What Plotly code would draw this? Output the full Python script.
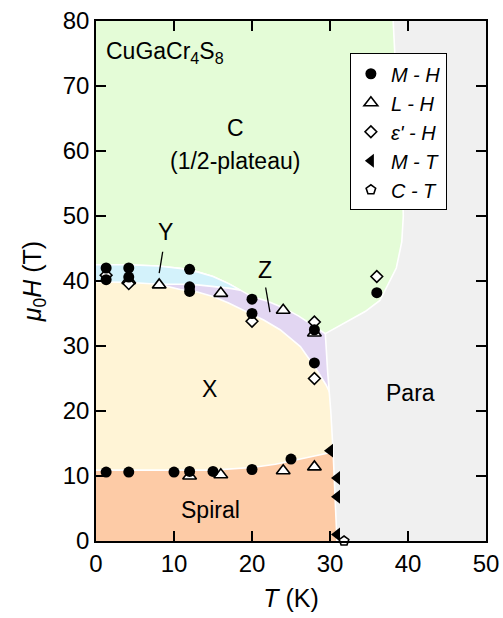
import plotly.graph_objects as go

# ---- phase boundaries (T in K, mu0H in T) ----
c_lower_T = [0, 4, 8, 11, 13, 15, 17, 18.5, 20, 22, 24, 26, 28, 29.4]
c_lower_H = [42.5, 42.5, 42.3, 41.9, 41.4, 40.7, 39.6, 38.6, 37.6, 36.9, 35.9, 34.6, 33.0, 31.9]

y_split_T = [9, 11, 13, 15, 17, 18.5]          # cyan (Y) / purple (Z) boundary
y_split_H = [39.5, 39.5, 39.4, 39.2, 38.9, 38.6]

x_upper_T = [0, 4, 8, 10.8, 13, 15, 17, 19.3, 21.5, 23.6, 26.2, 28.2, 29.5, 30.3]
x_upper_H = [39.9, 39.8, 39.5, 38.7, 38.3, 37.6, 36.6, 35.3, 34.0, 32.5, 29.9, 26.5, 24.0, 22.0]

spiral_T = [0, 5, 10, 15, 20, 23, 25, 27.5, 30.4]
spiral_H = [10.9, 10.8, 10.8, 10.9, 11.3, 11.8, 12.3, 13.0, 13.7]

para_T = [38.1, 38.6, 39.2, 39.4, 39.2, 38.5, 36.4, 34.5, 32.6, 30.8, 29.4, 29.7, 30.1, 30.4, 30.7, 31.0]
para_H = [80, 68, 58, 50, 46, 42, 37, 35.3, 34.0, 32.8, 31.9, 26, 20, 13.7, 6, 0]

# ---- measured points ----
mh_T = [1.3, 1.3, 4.2, 4.2, 12, 12, 12, 20, 20, 28, 28, 36, 1.3, 4.2, 10, 12, 15, 20, 25]
mh_H = [42.0, 40.2, 42.0, 40.6, 41.8, 39.1, 38.4, 37.2, 35.0, 32.5, 27.4, 38.2, 10.6, 10.6, 10.6, 10.7, 10.7, 11.0, 12.6]

lh_T = [4.2, 8.1, 16, 24, 28, 12, 16, 24, 28]
lh_H = [40.1, 39.4, 38.1, 35.5, 32.0, 10.0, 10.2, 10.8, 11.4]

ed_T = [1.3, 4.2, 20, 28, 28, 36]
ed_H = [40.9, 39.6, 33.8, 33.7, 25.0, 40.7]

mt_T = [30.0, 30.9, 30.9, 30.9]
mt_H = [13.9, 9.7, 6.8, 1.0]

ct_T = [31.8]
ct_H = [0]

GREEN = '#e4fcd7'
CYAN = '#d3f2fb'
PURPLE = '#e2d6f2'
YELLOW = '#fff4d6'
PEACH = '#fdcba6'
GRAY = '#f0f0f0'
FONT = 'Liberation Sans, Arial, sans-serif'

LO, HI_T, HI_H = -3, 53, 83  # padding outside the axes so fills reach the frame


def below(T, H, right):
    # polygon of everything under a boundary curve
    xs = [LO] + T + [right, right, LO]
    ys = [H[0]] + H + [H[-1], LO, LO]
    return xs, ys


fig = go.Figure()


def region(xs, ys, color):
    fig.add_trace(go.Scatter(x=xs, y=ys, mode='lines', fill='toself', fillcolor=color,
                             line=dict(color='white', width=1.6), hoverinfo='skip',
                             showlegend=False))


region(*below(c_lower_T, c_lower_H, 33), PURPLE)
n = c_lower_T.index(y_split_T[-1]) + 1
region([LO] + c_lower_T[:n] + y_split_T[::-1] + [LO],
       [c_lower_H[0]] + c_lower_H[:n] + y_split_H[::-1] + [y_split_H[0]], CYAN)
region(*below(x_upper_T, x_upper_H, 33), YELLOW)
region(*below(spiral_T, spiral_H, 33), PEACH)
region([para_T[0]] + para_T + [para_T[-1], HI_T, HI_T],
       [HI_H] + para_H + [LO, LO, HI_H], GRAY)

mk_line = dict(color='black', width=1.6)
fig.add_trace(go.Scatter(x=lh_T, y=lh_H, mode='markers', name='<i>L - H</i>', legendrank=2,
                         marker=dict(symbol='triangle-up', size=12, color='white', line=mk_line)))
fig.add_trace(go.Scatter(x=ed_T, y=ed_H, mode='markers', name="<i>ε' - H</i>", legendrank=3,
                         marker=dict(symbol='diamond', size=9, color='white', line=mk_line)))
fig.add_trace(go.Scatter(x=mh_T, y=mh_H, mode='markers', name='<i>M - H</i>', legendrank=1,
                         marker=dict(symbol='circle', size=11, color='black')))
fig.add_trace(go.Scatter(x=mt_T, y=mt_H, mode='markers', name='<i>M - T</i>', legendrank=4,
                         cliponaxis=False,
                         marker=dict(symbol='triangle-left', size=12, color='black')))
fig.add_trace(go.Scatter(x=ct_T, y=ct_H, mode='markers', name='<i>C - T</i>', legendrank=5,
                         cliponaxis=False,
                         marker=dict(symbol='pentagon', size=10, color='white', line=mk_line)))

labels = [
    (8.8, 75.2, 'CuGaCr<sub>4</sub>S<sub>8</sub>'),
    (17.9, 63.5, 'C'),
    (17.8, 58.4, '(1/2-plateau)'),
    (8.9, 47.6, 'Y'),
    (21.7, 41.7, 'Z'),
    (14.6, 23.4, 'X'),
    (14.7, 4.8, 'Spiral'),
    (40.3, 22.8, 'Para'),
]
for tx, hy, txt in labels:
    fig.add_annotation(x=tx, y=hy, text=txt, showarrow=False,
                       font=dict(family=FONT, size=23, color='black'))

pointers = [((8.55, 44.5), (8.1, 41.2)), ((21.75, 39.0), (22.3, 35.2))]
for (x0, y0), (x1, y1) in pointers:
    fig.add_shape(type='line', x0=x0, y0=y0, x1=x1, y1=y1, layer='above',
                  line=dict(color='black', width=1.3))

axis = dict(showgrid=False, zeroline=False, showline=True, linecolor='black', linewidth=1.5,
            mirror='ticks', ticks='inside', ticklen=10, tickwidth=1.5, tickcolor='black',
            dtick=10, automargin=False, tickfont=dict(family=FONT, size=24, color='black'))

fig.update_xaxes(axis, range=[0, 50],
                 title=dict(text='<i>T</i> (K)', font=dict(family=FONT, size=25, color='black'),
                            standoff=14))
fig.update_yaxes(axis, range=[0, 80],
                 title=dict(text='<i>μ</i><sub>0</sub><i>H</i> (T)',
                            font=dict(family=FONT, size=25, color='black'), standoff=14))

fig.update_layout(
    width=503, height=618,
    margin=dict(l=96, r=17, t=21, b=77),
    plot_bgcolor=GREEN, paper_bgcolor='white',
    font=dict(family=FONT, color='black'),
    legend=dict(x=0.651, y=0.938, xanchor='left', yanchor='top', bgcolor='white',
                bordercolor='black', borderwidth=1, font=dict(family=FONT, size=20)),
)

fig.write_html("out.html", config=dict(displayModeBar=False),
               post_script="document.body.style.margin='0';")
